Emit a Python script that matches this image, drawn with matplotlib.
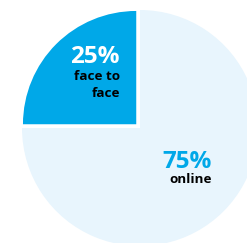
import matplotlib
matplotlib.use("Agg")
import matplotlib.pyplot as plt

labels = ["face to\nface", "online"]
values = [25, 75]
pct_labels = ["25%", "75%"]
colors = ["#00a8e8", "#e8f5fd"]

W, H = 247, 243
fig = plt.figure(figsize=(W/100, H/100), dpi=100)
cx, cy, r = 140, 243-128, 118
ax = fig.add_axes([(cx-r)/W, (cy-r)/H, 2*r/W, 2*r/H])
wedges, _ = ax.pie(values, colors=colors, startangle=90, counterclock=True, radius=1,
                   explode=[0.045, 0], wedgeprops=dict(linewidth=0))
wedges[0].set_radius(0.96)
ax.set_xlim(-1, 1)
ax.set_ylim(-1, 1)
ax.set_aspect("equal")
ax.axis("off")

fam = ["Open Sans", "DejaVu Sans"]
def px2data(x, y):
    return ((x-cx)/r, ((243-y)-cy)/r)

x, y = px2data(120, 63)
ax.text(x, y, pct_labels[0], color="white", fontsize=17.5, fontweight="bold", ha="right", va="baseline", family=fam)
for i, line in enumerate(labels[0].split("\n")):
    x, y = px2data(120, 80 + 17*i)
    ax.text(x, y, line, color="black", fontsize=9.7, fontweight="bold", ha="right", va="baseline", family=fam)
x, y = px2data(212, 168)
ax.text(x, y, pct_labels[1], color="#00a8e8", fontsize=17.5, fontweight="bold", ha="right", va="baseline", family=fam)
x, y = px2data(212, 183)
ax.text(x, y, labels[1], color="black", fontsize=9.7, fontweight="bold", ha="right", va="baseline", family=fam)

fig.savefig("out.png", dpi=100)
